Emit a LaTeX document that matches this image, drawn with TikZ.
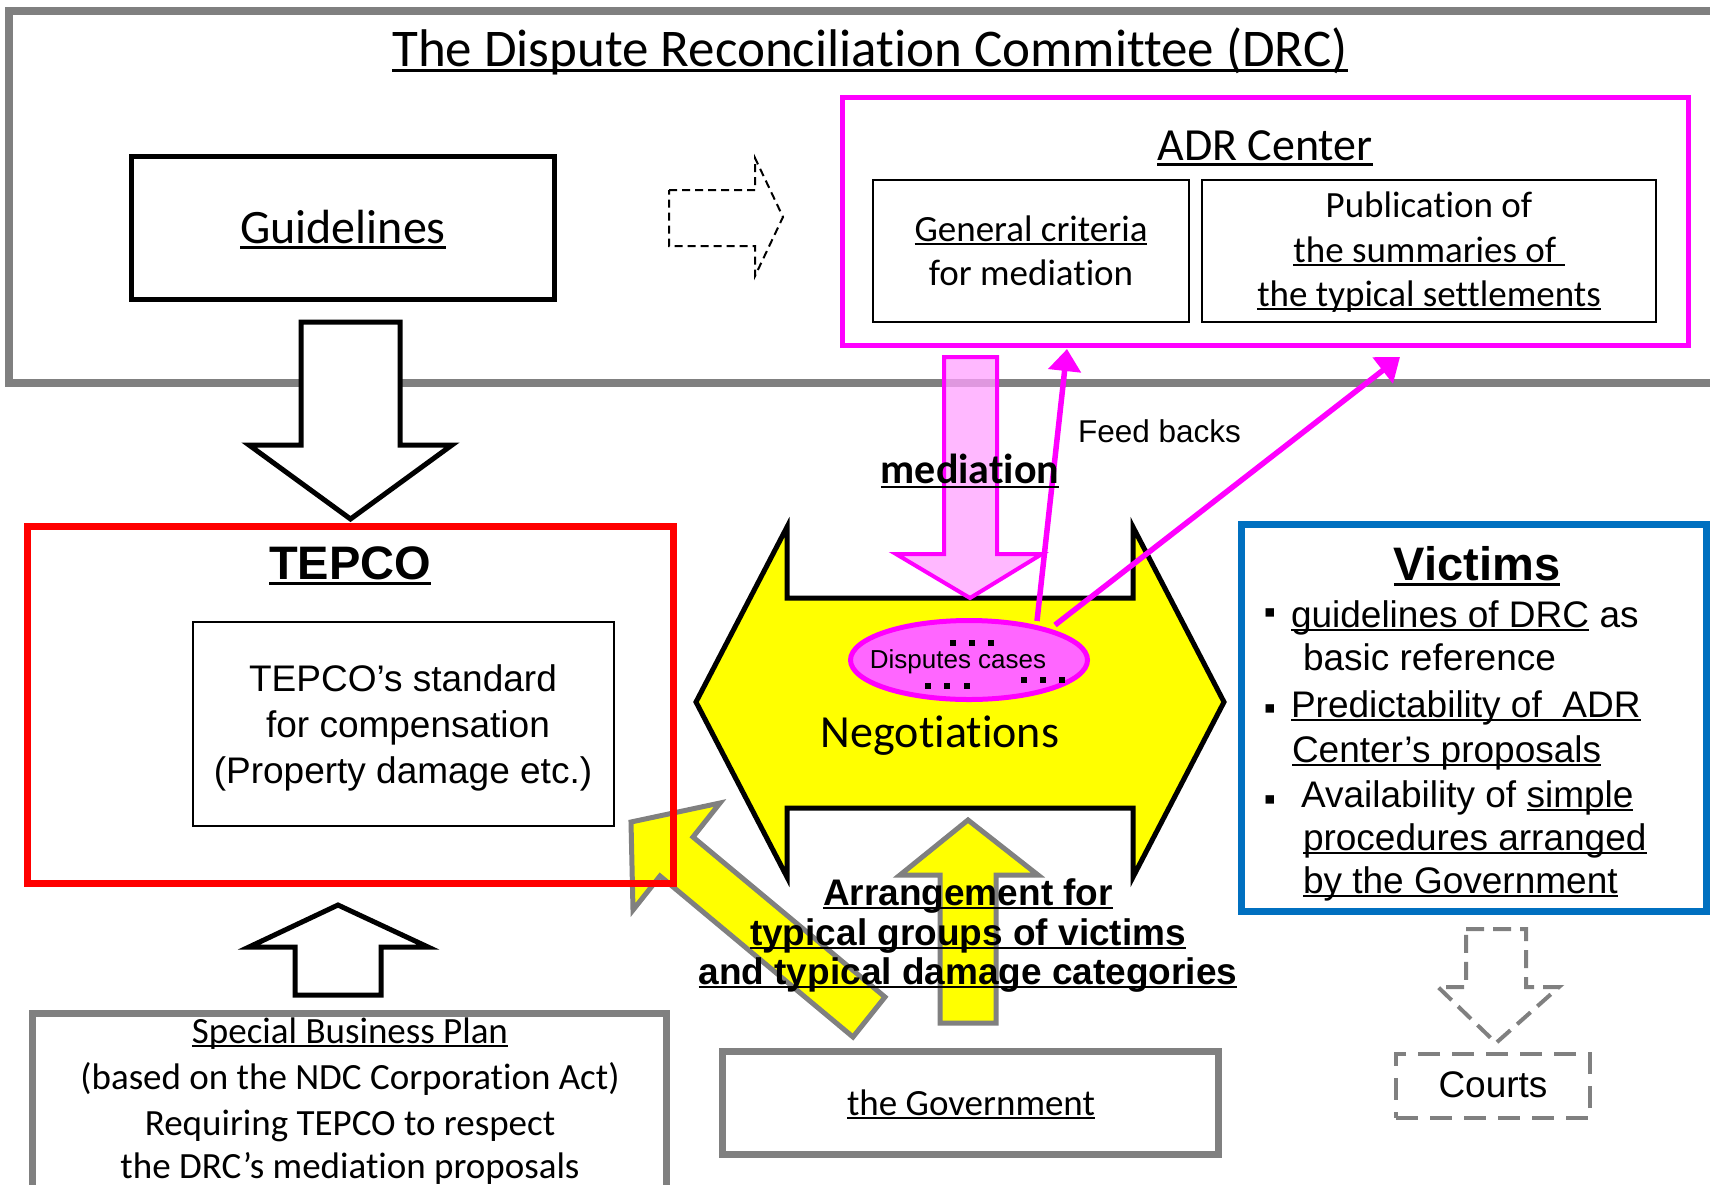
\documentclass[tikz,border=0pt]{standalone}
\usepackage{fontspec}
\setmainfont{Carlito}[Ligatures={NoCommon,NoContextual}]
\newfontfamily\arial{Liberation Sans}[Ligatures={NoCommon}]
\usetikzlibrary{arrows.meta,shapes.geometric}
\definecolor{drcgray}{RGB}{128,128,128}
\definecolor{mag}{RGB}{255,0,255}
\definecolor{yel}{RGB}{255,255,0}
\definecolor{blu}{RGB}{0,112,192}
\definecolor{ellpink}{RGB}{255,102,255}
\definecolor{arrpink}{RGB}{255,160,255}
\newsavebox\ulbox
\newcommand\ulx[1]{\sbox\ulbox{#1}\rlap{\rule[-0.12em]{\wd\ulbox}{0.055em}}\usebox\ulbox}
\newcommand\fsz[1]{\fontsize{#1}{#1}\selectfont}
\begin{document}
\begin{tikzpicture}[x=1pt,y=-1pt,
  txt/.style={inner sep=0pt, outer sep=0pt, anchor=base},
  txtw/.style={inner sep=0pt, outer sep=0pt, anchor=base west},
  frame/.style={rectangle, inner sep=0pt, outer sep=0pt},
  blockarrow/.style={line join=miter, miter limit=10},
  feed/.style={draw=mag, line width=5.5pt, -{Triangle[width=32pt,length=22pt]}},
  bul/.style={inner sep=0pt, outer sep=0pt, anchor=center}
]
\useasboundingbox (0,0) rectangle (1710,1184);

% DRC frame
\node[frame, draw=drcgray, line width=8pt, minimum width=1721pt, minimum height=372pt] (drc) at (869.5,197) {};
\node[txt] (title) at (870,66) {\fsz{53}\ulx{The Dispute Reconciliation Committee (DRC)}};

% Guidelines
\node[frame, draw=black, line width=5pt, minimum width=423pt, minimum height=143pt] (guide) at (343,228) {};
\node[txt] (guidetxt) at (343,243) {\fsz{48}\ulx{Guidelines}};

% small dashed arrow
\draw[blockarrow, line width=2pt, dash pattern=on 8pt off 5pt]
  (669,190) -- (755,190) -- (755,158) -- (783,217) -- (755,276) -- (755,246) -- (669,246) -- cycle;

% ADR center
\node[frame, draw=mag, line width=5pt, minimum width=846pt, minimum height=248pt] (adr) at (1265.5,221.5) {};
\node[txt] (adrtxt) at (1265,160) {\fsz{46}\ulx{ADR Center}};
\node[frame, draw=black, line width=2.5pt, minimum width=316pt, minimum height=142pt] (gen) at (1031,251) {};
\node[txt] (gen1) at (1031,241) {\fsz{37}\ulx{General criteria}};
\node[txt] (gen2) at (1031,285) {\fsz{37}for mediation};
\node[frame, draw=black, line width=2.5pt, minimum width=454pt, minimum height=142pt] (pub) at (1429,251) {};
\node[txt] (pub1) at (1429,217) {\fsz{37}Publication of};
\node[txt] (pub2) at (1429,262) {\fsz{37}\ulx{the summaries of\ }};
\node[txt] (pub3) at (1429,306) {\fsz{37}\ulx{the typical settlements}};

% big arrow guidelines -> TEPCO
\draw[blockarrow, line width=5pt, fill=white]
  (301,322) -- (400,322) -- (400,445) -- (452,445) -- (350.5,519) -- (249,445) -- (301,445) -- cycle;

% Negotiations double arrow
\draw[blockarrow, line width=5pt, fill=yel]
  (696,702) -- (787,527) -- (787,598) -- (1133,598) -- (1133,527) -- (1224,702)
  -- (1133,877) -- (1133,808) -- (787,808) -- (787,877) -- cycle;

% pink mediation arrow
\draw[blockarrow, draw=mag, line width=4pt, fill=arrpink, fill opacity=0.75]
  (944,357) -- (997,357) -- (997,554) -- (1042,554) -- (970,598) -- (896,554) -- (944,554) -- cycle;

% disputes ellipse
\node[ellipse, draw=mag, line width=5pt, fill=ellpink, minimum width=237pt, minimum height=79pt, inner sep=0pt] (disp) at (969,660) {};
\node[txt] (disptxt) at (958,668) {\arial\fsz{26}Disputes cases};
\foreach \x in {953,972,991} \fill (\x-3,640) rectangle (\x+3,646);
\foreach \x in {928,947,967} \fill (\x-3,683) rectangle (\x+3,689);
\foreach \x in {1024,1043,1062} \fill (\x-3,677) rectangle (\x+3,683);
\node[txt] (nego) at (940,747) {\fsz{46}Negotiations};

% feedback arrows
\coordinate (fb1s) at (1037,621);
\coordinate (fb1e) at (1067,349);
\coordinate (fb2s) at (1055,625);
\coordinate (fb2e) at (1400,357);
\draw[feed] (fb1s) -- (fb1e);
\draw[feed] (fb2s) -- (fb2e);
\node[txtw] (feedtxt) at (1078,442) {\arial\fsz{31.5}Feed backs};
\node[txt] (medtxt) at (970,483) {\fsz{42}\bfseries\ulx{mediation}};

% diagonal yellow arrow government -> TEPCO
\draw[blockarrow, draw=drcgray, line width=5pt, fill=yel]
  (631,822) -- (720,803) -- (693,837) -- (885,997) -- (853,1037) -- (660,876) -- (633,910) -- cycle;

% TEPCO
\node[frame, draw=red, line width=7pt, minimum width=646pt, minimum height=357pt] (tepco) at (350.5,705) {};
\node[txt] (tepcotxt) at (350,579) {\arial\bfseries\fsz{47}\ulx{TEPCO}};
\node[frame, draw=black, line width=2pt, minimum width=421pt, minimum height=204pt] (std) at (403.5,724) {};
\node[txt] (std1) at (403,691) {\arial\fsz{37}TEPCO’s standard};
\node[txt] (std2) at (408,737) {\arial\fsz{37}for compensation};
\node[txt] (std3) at (403,783) {\arial\fsz{37}(Property damage etc.)};

% up arrow SBP -> TEPCO
\draw[blockarrow, line width=5pt, fill=white]
  (295,995) -- (381,995) -- (381,947) -- (428,947) -- (338,905) -- (249,947) -- (295,947) -- cycle;

% Special Business Plan
\node[frame, draw=drcgray, line width=7pt, minimum width=634pt, minimum height=373.5pt] (sbp) at (349.5,1200.25) {};
\node[txt] (sbp1) at (350,1043) {\fsz{37}\ulx{Special Business Plan}};
\node[txt] (sbp2) at (350,1089) {\fsz{37}(based on the NDC Corporation Act)};
\node[txt] (sbp3) at (350,1135) {\fsz{37}Requiring TEPCO to respect};
\node[txt] (sbp4) at (350,1178) {\fsz{37}the DRC’s mediation proposals};

% Government
\node[frame, draw=drcgray, line width=7pt, minimum width=496pt, minimum height=103pt] (gov) at (970.5,1103) {};
\node[txt] (govtxt) at (971,1115) {\fsz{37}\ulx{the Government}};

% vertical yellow arrow
\draw[blockarrow, draw=drcgray, line width=5pt, fill=yel]
  (940,1023) -- (996,1023) -- (996,875) -- (1038,875) -- (968,820) -- (900,875) -- (940,875) -- cycle;

\node[txt] (arr1) at (968,905) {\arial\bfseries\fsz{37}\ulx{Arrangement for}};
\node[txt] (arr2) at (968,945) {\arial\bfseries\fsz{37}\ulx{typical groups of victims}};
\node[txt] (arr3) at (968,984) {\arial\bfseries\fsz{37}\ulx{and typical damage categories}};

% Victims
\node[frame, draw=blu, line width=7pt, minimum width=465pt, minimum height=387pt] (vic) at (1473.5,717.5) {};
\node[txt] (victxt) at (1477,580) {\arial\bfseries\fsz{47}\ulx{Victims}};
\node[bul] (b1) at (1270,616) {\arial\fsz{34}▪};
\node[txtw] (v1) at (1291,627) {\arial\fsz{37}\ulx{guidelines of DRC} as};
\node[txtw] (v2) at (1303,670) {\arial\fsz{37}basic reference};
\node[bul] (b2) at (1270,712) {\arial\fsz{34}▪};
\node[txtw] (v3) at (1291,717) {\arial\fsz{37}\ulx{Predictability of\ \ ADR}};
\node[txtw] (v4) at (1292,762) {\arial\fsz{37}\ulx{Center’s proposals}};
\node[bul] (b3) at (1270,803) {\arial\fsz{34}▪};
\node[txtw] (v5) at (1301,807) {\arial\fsz{37}Availability of \ulx{simple}};
\node[txtw] (v6) at (1303,850) {\arial\fsz{37}\ulx{procedures arranged}};
\node[txtw] (v7) at (1303,893) {\arial\fsz{37}\ulx{by the Government}};

% dashed arrow victims -> courts
\draw[blockarrow, draw=drcgray, line width=4pt, dash pattern=on 18pt off 9pt]
  (1466,929) -- (1526,929) -- (1526,987) -- (1559,987) -- (1496,1043) -- (1438,987) -- (1466,987) -- cycle;

% Courts
\node[frame, draw=drcgray, line width=4pt, dash pattern=on 22pt off 12pt, minimum width=194pt, minimum height=64pt] (courts) at (1493,1086) {};
\node[txt] (courtstxt) at (1493,1097) {\arial\fsz{37}Courts};
\end{tikzpicture}
\end{document}
